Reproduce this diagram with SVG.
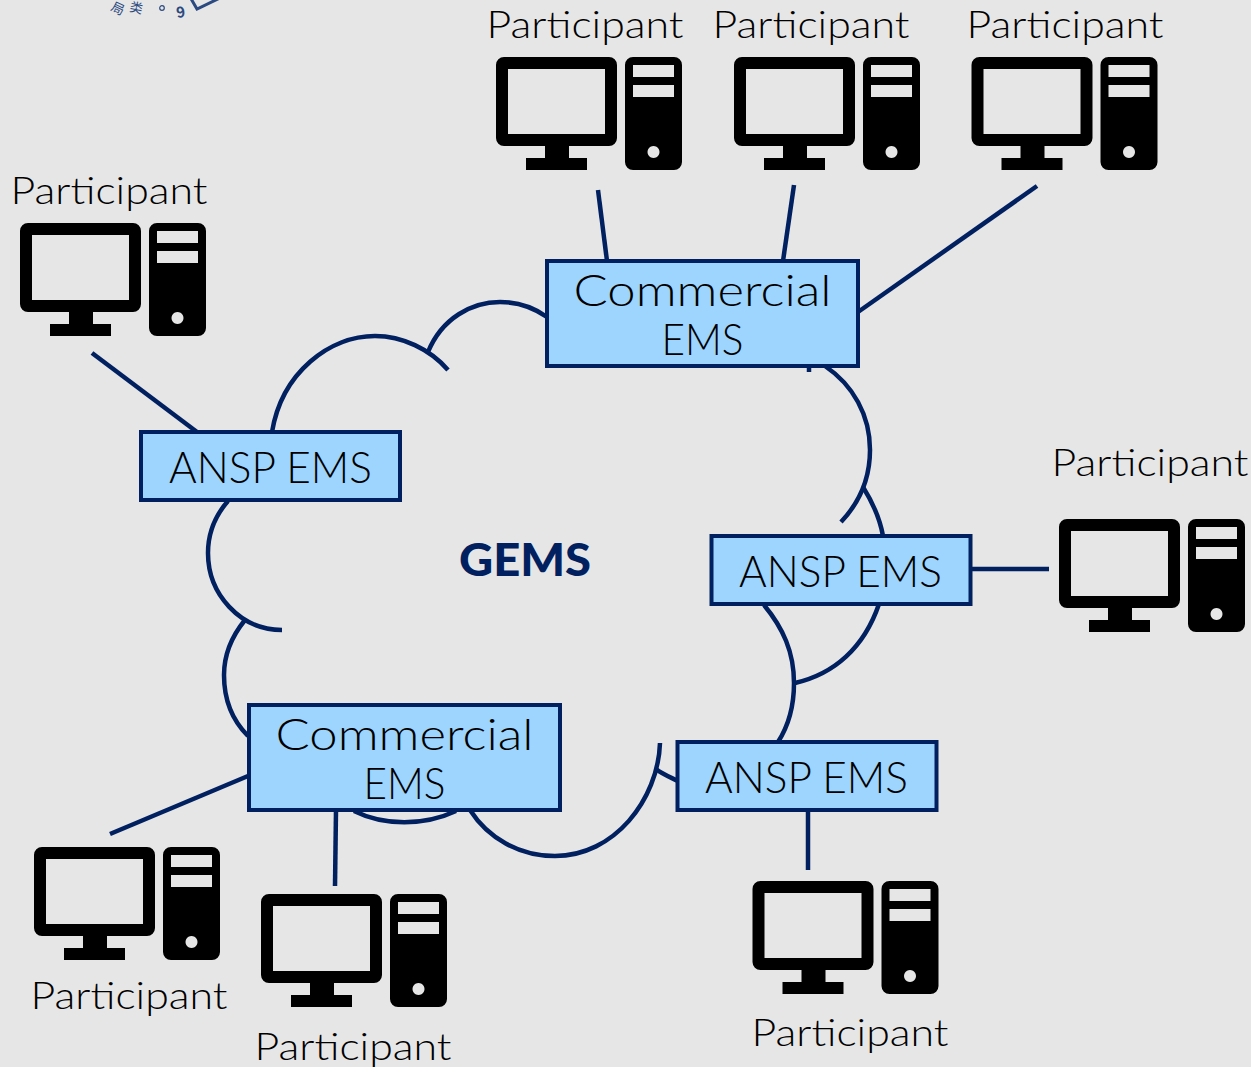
<svg xmlns="http://www.w3.org/2000/svg" width="1251" height="1067" viewBox="0 0 1251 1067">
<style>
.bg{fill:#e6e6e6}
.link{fill:none;stroke:#002060;stroke-width:4.500}
.box{fill:#9dd5ff;stroke:#002060;stroke-width:4}
.t{font-family:"Lato","Liberation Sans",sans-serif;font-weight:300;fill:#000;text-anchor:middle}
.p{font-size:38px}
.b{font-size:44px}
.g{font-family:"Lato","Liberation Sans",sans-serif;font-weight:900;font-size:46px;fill:#002060;text-anchor:middle}
.logo{fill:#2b4a80;font-family:"Noto Sans CJK SC",sans-serif}
</style>
<defs>
<symbol id="pc" width="186" height="113" viewBox="0 0 186 113" overflow="visible">
<path fill-rule="evenodd" d="M8 0H113a8 8 0 0 1 8 8V81a8 8 0 0 1-8 8H73V101H91V113H30V101H49V89H8a8 8 0 0 1-8-8V8a8 8 0 0 1 8-8ZM12 12V77H109V12Z"/>
<path fill-rule="evenodd" d="M137 0H178a8 8 0 0 1 8 8V105a8 8 0 0 1-8 8H137a8 8 0 0 1-8-8V8a8 8 0 0 1 8-8ZM137 8V20H178V8ZM137 28V40H178V28ZM157.500 89a6 6 0 1 0 0.010 0Z"/>
</symbol>
</defs>
<rect class="bg" width="1251" height="1067"/>
<g id="logo-fragment">
<text class="logo" font-size="13" transform="translate(110 10) rotate(25)">局</text>
<text class="logo" font-size="13" transform="translate(129 11) rotate(12)">类</text>
<circle cx="162" cy="8" r="2.300" fill="none" stroke="#2b4a80" stroke-width="1.200"/>
<text class="logo" font-size="15" font-weight="700" transform="translate(177 18) rotate(-8)">9</text>
<path d="M190 -3L197 9L222 -3" fill="none" stroke="#2b4a80" stroke-width="3"/>
</g>
<g id="connectors">
<path class="link" d="M598 190L607 261"/>
<path class="link" d="M794 185L783 261"/>
<path class="link" d="M1037 186L858 312"/>
<path class="link" d="M92 353L197 432"/>
<path class="link" d="M971 569H1049"/>
<path class="link" d="M248 776L110 834"/>
<path class="link" d="M336 810L335 886"/>
<path class="link" d="M808 810V870"/>
<path class="link" d="M272 432C282 372 330 336 375 336C402 336 430 349 448 370"/>
<path class="link" d="M428 352C442 318 472 302 500 302C517 302 533 307 547 317"/>
<path class="link" d="M809 366V372"/>
<path class="link" d="M825 366C853 385 870 415 870 450C870 479 859 503 841 522"/>
<path class="link" d="M863 487C873 503 880 519 883 536"/>
<path class="link" d="M879 604C864 648 834 674 795 683"/>
<path class="link" d="M764 605C783 628 794 652 794 683C794 705 789 725 778 742"/>
<path class="link" d="M660 743C658 800 614 856 555 856C519 856 488 838 470 810"/>
<path class="link" d="M656 769C662 774 670 777 678 781"/>
<path class="link" d="M354 811C384 826 424 826 456 811"/>
<path class="link" d="M248 736C232 720 224 698 224 675C224 655 232 636 245 620"/>
<path class="link" d="M228 501C214 517 208 535 208 553C208 594 240 630 282 630"/>
</g>
<g id="node-commercial-top"><rect class="box" x="547" y="261" width="311" height="105"/><text class="t b" x="702.500" y="306" textLength="258" lengthAdjust="spacingAndGlyphs">Commercial</text><text class="t b" x="702.500" y="355" textLength="82" lengthAdjust="spacingAndGlyphs">EMS</text></g>
<g id="node-commercial-bottom"><rect class="box" x="249" y="705" width="311" height="105"/><text class="t b" x="404.500" y="750" textLength="258" lengthAdjust="spacingAndGlyphs">Commercial</text><text class="t b" x="404.500" y="799" textLength="82" lengthAdjust="spacingAndGlyphs">EMS</text></g>
<g id="node-ansp-left"><rect class="box" x="141" y="432" width="259" height="68"/><text class="t b" x="270.500" y="483" textLength="203" lengthAdjust="spacingAndGlyphs">ANSP EMS</text></g>
<g id="node-ansp-right"><rect class="box" x="711.500" y="536" width="259" height="68"/><text class="t b" x="840.500" y="587" textLength="203" lengthAdjust="spacingAndGlyphs">ANSP EMS</text></g>
<g id="node-ansp-bottom"><rect class="box" x="677.500" y="742" width="259" height="68"/><text class="t b" x="806.500" y="793" textLength="203" lengthAdjust="spacingAndGlyphs">ANSP EMS</text></g>
<g id="node-gems"><text class="g" x="525" y="576" textLength="132" lengthAdjust="spacingAndGlyphs">GEMS</text></g>
<g id="participant-1"><use href="#pc" x="496" y="57" width="186" height="113"/><text class="t p" x="585" y="38" textLength="197" lengthAdjust="spacingAndGlyphs">Participant</text></g>
<g id="participant-2"><use href="#pc" x="734" y="57" width="186" height="113"/><text class="t p" x="811" y="38" textLength="197" lengthAdjust="spacingAndGlyphs">Participant</text></g>
<g id="participant-3"><use href="#pc" x="971.500" y="57" width="186" height="113"/><text class="t p" x="1065" y="38" textLength="197" lengthAdjust="spacingAndGlyphs">Participant</text></g>
<g id="participant-4"><use href="#pc" x="20" y="223" width="186" height="113"/><text class="t p" x="109" y="204" textLength="197" lengthAdjust="spacingAndGlyphs">Participant</text></g>
<g id="participant-5"><use href="#pc" x="1059" y="519" width="186" height="113"/><text class="t p" x="1150" y="476" textLength="197" lengthAdjust="spacingAndGlyphs">Participant</text></g>
<g id="participant-6"><use href="#pc" x="34" y="847" width="186" height="113"/><text class="t p" x="129" y="1009" textLength="197" lengthAdjust="spacingAndGlyphs">Participant</text></g>
<g id="participant-7"><use href="#pc" x="261" y="894" width="186" height="113"/><text class="t p" x="353" y="1060" textLength="197" lengthAdjust="spacingAndGlyphs">Participant</text></g>
<g id="participant-8"><use href="#pc" x="752.500" y="881" width="186" height="113"/><text class="t p" x="850" y="1046" textLength="197" lengthAdjust="spacingAndGlyphs">Participant</text></g>
</svg>
